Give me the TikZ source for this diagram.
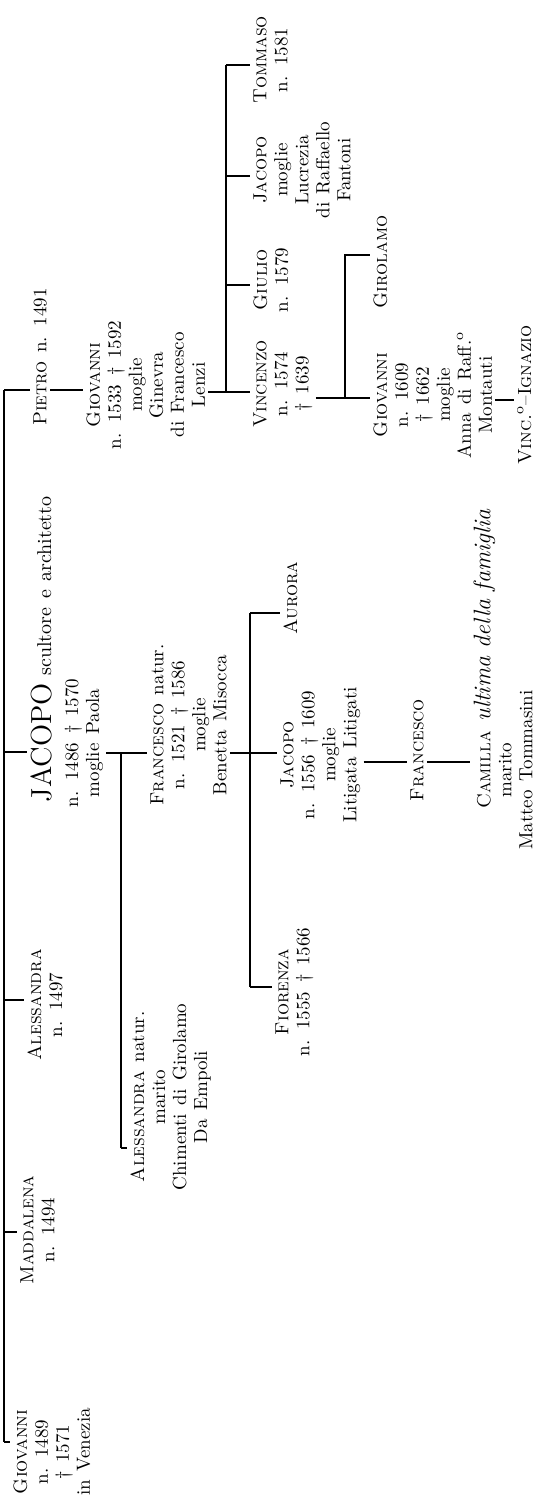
\documentclass[tikz,border=0pt]{standalone}
\usetikzlibrary{positioning}

\tikzset{
  person/.style={rotate=90, anchor=north, align=center, inner sep=1.5pt,
    font={\fontsize{9.5}{10.5}\selectfont\spaceskip=.45em\relax}},
  kin/.style={line width=0.6pt},
}
\newcommand{\nm}[1]{\textsc{#1}}

\begin{document}
\begin{tikzpicture}[x=0.5pt,y=0.5pt]
  \useasboundingbox (0,0) rectangle (548,1511);

  % first generation
  \node[person] (giov1) at (10,59) {\nm{Giovanni}\\n. 1489\\\textdagger{} 1571\\in Venezia};
  \node[person] (madd) at (17,281) {\nm{Maddalena}\\n. 1494};
  \node[person] (ales1) at (24,506) {\nm{Alessandra}\\n. 1497};
  \node[person] (jac1) at (27,768) {{\fontsize{14.5}{16}\selectfont JACOPO}\rlap{\fontsize{10}{12}\selectfont\hspace{.4em}scultore e architetto}\\[3pt]n. 1486 \textdagger{} 1570\\moglie Paola};
  \node[person] (pietro) at (30,1154) {\nm{Pietro} n. 1491};
  \draw[kin] (4,69) -- (4,1121);
  \foreach \who/\at in {giov1/69, madd/279, ales1/511, jac1/759, pietro/1121}
    \draw[kin] (4,\at) -- (\who.north |- 0,\at);

  % children of Jacopo
  \node[person] (alnat) at (127,414) {\nm{Alessandra} natur.\\marito\\Chimenti di Girolamo\\Da Empoli};
  \node[person] (fnat) at (147,786) {\nm{Francesco} natur.\\n. 1521 \textdagger{} 1586\\moglie\\Benetta Misocca};
  \draw[kin] (121,363) -- (121,758);
  \draw[kin] (jac1.south |- 0,758) -- (fnat.north |- 0,758);
  \draw[kin] (121,363) -- (alnat.north |- 0,363);

  % son of Pietro
  \node[person] (giov2) at (83,1126) {\nm{Giovanni}\\n. 1533 \textdagger{} 1592\\moglie\\Ginevra\\di Francesco\\Lenzi};
  \draw[kin] (pietro.south |- 0,1121) -- (giov2.north |- 0,1121);

  % children of Giovanni
  \node[person] (vinc) at (250,1127) {\nm{Vincenzo}\\n. 1574\\\textdagger{} 1639};
  \node[person] (giul) at (250,1231) {\nm{Giulio}\\n. 1579};
  \node[person] (jac3) at (250,1341) {\nm{Jacopo}\\moglie\\Lucrezia\\di Raffaello\\Fantoni};
  \node[person] (tomm) at (250,1451) {\nm{Tommaso}\\n. 1581};
  \draw[kin] (giov2.south |- 0,1119) -- (226,1119) -- (226,1446);
  \foreach \who/\at in {vinc/1119, giul/1226, jac3/1335, tomm/1446}
    \draw[kin] (226,\at) -- (\who.north |- 0,\at);

  % children of Vincenzo
  \node[person] (giov3) at (370,1116) {\nm{Giovanni}\\n. 1609\\\textdagger{} 1662\\moglie\\Anna di Raff.$^{\mathrm{o}}$\\Montauti};
  \node[person] (giro) at (370,1249) {\nm{Girolamo}};
  \draw[kin] (vinc.south |- 0,1113) -- (giov3.north |- 0,1113);
  \draw[kin] (345,1113) -- (345,1256) -- (giro.north |- 0,1256);

  \node[person] (vincig) at (514,1116) {\nm{Vinc.}$^{\mathrm{o}}$--\nm{Ignazio}};
  \draw[kin] (giov3.south |- 0,1111) -- (vincig.north |- 0,1111);

  % children of Francesco natur.
  \node[person] (fior) at (272,519) {\nm{Fiorenza}\\n. 1555 \textdagger{} 1566};
  \node[person] (jac2) at (277,756) {\nm{Jacopo}\\n. 1556 \textdagger{} 1609\\moglie\\Litigata Litigati};
  \node[person] (auro) at (280,913) {\nm{Aurora}};
  \draw[kin] (250,524) -- (250,898);
  \draw[kin] (fnat.south |- 0,758) -- (jac2.north |- 0,758);
  \foreach \who/\at in {fior/524, auro/898}
    \draw[kin] (250,\at) -- (\who.north |- 0,\at);

  % last line
  \node[person] (fran3) at (407,761) {\nm{Francesco}};
  \node[person] (cam) at (470,741) {\nm{Camilla}\rlap{\fontsize{12}{14}\selectfont\itshape\hspace{.4em}ultima della famiglia}\\marito\\Matteo Tommasini};
  \draw[kin] (jac2.south |- 0,749) -- (fran3.north |- 0,749);
  \draw[kin] (fran3.south |- 0,749) -- (cam.north |- 0,749);
\end{tikzpicture}
\end{document}
